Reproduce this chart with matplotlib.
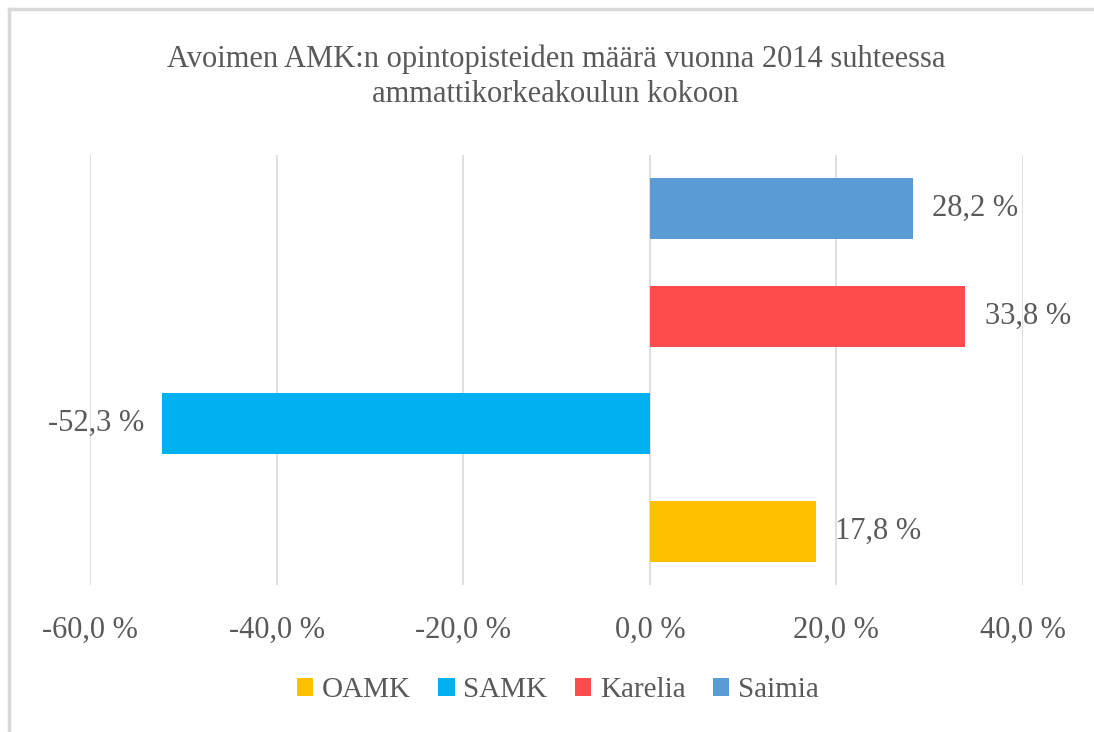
import matplotlib
matplotlib.use("Agg")
import matplotlib.pyplot as plt
from matplotlib.lines import Line2D
from matplotlib.patches import Patch

# data, bottom to top as drawn
series = ["OAMK", "SAMK", "Karelia", "Saimia"]
values = [17.8, -52.3, 33.8, 28.2]
colors = ["#FFC000", "#00B0F0", "#FF4B4B", "#5B9BD5"]
xticks = [-60, -40, -20, 0, 20, 40]
title = "Avoimen AMK:n opintopisteiden määrä vuonna 2014 suhteessa\nammattikorkeakoulun kokoon"

txt = "#595959"
plt.rcParams["font.family"] = ["Liberation Serif", "DejaVu Serif"]

fig = plt.figure(figsize=(10.94, 7.32), dpi=100)
ax = fig.add_axes([0.0823, 0.2008, 0.8528, 0.5874])

ypos = list(range(len(series)))
ax.barh(ypos, values, height=0.57, color=colors, zorder=3)

def fmt(v):
    return f"{v:.1f}".replace(".", ",") + " %"

for y, v in zip(ypos, values):
    if v >= 0:
        ax.annotate(fmt(v), (v, y), xytext=(14, 0), textcoords="offset points",
                    ha="left", va="center", fontsize=22, color=txt)
    else:
        ax.annotate(fmt(v), (v, y), xytext=(-13, 0), textcoords="offset points",
                    ha="right", va="center", fontsize=22, color=txt)

ax.set_xlim(-60, 40)
ax.set_ylim(-0.5, 3.5)
ax.set_xticks(xticks)
ax.set_xticklabels([fmt(t) for t in xticks], fontsize=22, color=txt)
ax.set_yticks([])
ax.tick_params(axis="x", length=0, pad=22)
ax.grid(axis="x", color="#D9D9D9", linewidth=1.2, zorder=0)
for s in ax.spines.values():
    s.set_visible(False)

fig.text(0.508, 0.895, title, ha="center", va="center", fontsize=22,
         color=txt, linespacing=1.25)

handles = [Patch(facecolor=c, edgecolor="none") for c in colors]
fig.legend(handles, series, loc="center", bbox_to_anchor=(0.51, 0.057), ncol=4,
           frameon=False, fontsize=21, handlelength=0.55, handleheight=0.55,
           handletextpad=0.3, columnspacing=0.95, labelcolor=txt)

# chart area border (top and left visible)
fig.add_artist(Line2D([0.008, 1.0], [0.988, 0.988], color="#D9D9D9", linewidth=2.5,
                      transform=fig.transFigure))
fig.add_artist(Line2D([0.008, 0.008], [0.0, 0.988], color="#D9D9D9", linewidth=2.5,
                      transform=fig.transFigure))

fig.savefig("out.png", dpi=100, facecolor="white")
